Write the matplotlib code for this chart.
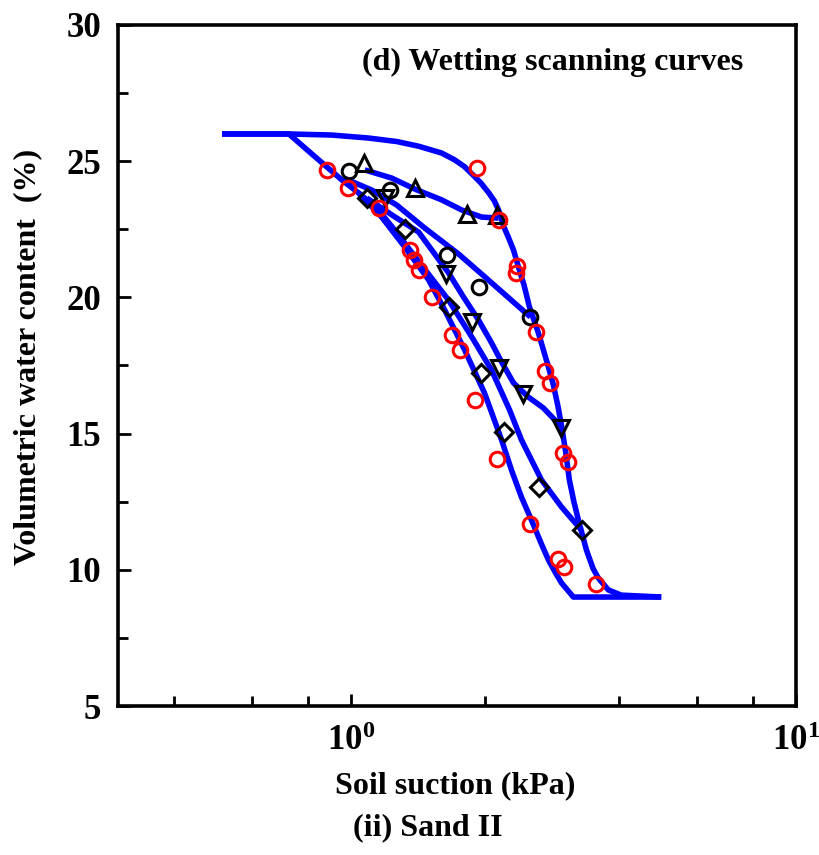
import numpy as np
import matplotlib
matplotlib.use("Agg")
import matplotlib.pyplot as plt
from matplotlib.ticker import FixedLocator, NullFormatter, FixedFormatter

plt.rcParams['font.family'] = ['Liberation Serif', 'DejaVu Serif']
plt.rcParams['font.weight'] = 'bold'
plt.rcParams['mathtext.fontset'] = 'custom'
plt.rcParams['mathtext.rm'] = 'Liberation Serif:bold'
plt.rcParams['mathtext.bf'] = 'Liberation Serif:bold'

# main drying boundary (right curve)
dry_x = [0.514, 0.726, 0.906, 1.097, 1.270, 1.420, 1.600, 1.711, 1.800, 1.880, 1.960, 2.039,
         2.100, 2.147, 2.203, 2.260, 2.320, 2.380, 2.450, 2.519, 2.639, 2.780, 2.850, 2.920,
         2.980, 3.040, 3.097, 3.170, 3.245, 3.382, 3.500, 3.597, 3.789, 4.052, 4.981]
dry_y = [26.0, 26.0, 25.96, 25.85, 25.72, 25.55, 25.30, 25.05, 24.80, 24.50, 24.20, 23.85,
         23.55, 23.21, 22.62, 22.20, 21.74, 21.12, 20.45, 19.65, 18.69, 17.44, 16.80, 16.00,
         15.20, 14.30, 13.30, 12.50, 11.83, 10.73, 10.05, 9.70, 9.26, 9.07, 9.0]

# main wetting boundary (left curve)
wet_x = [0.514, 0.726, 0.848, 0.955, 1.042, 1.173, 1.322, 1.496, 1.625, 1.802, 1.997, 2.181,
         2.296, 2.417, 2.545, 2.680, 2.780, 2.880, 2.973, 3.162, 4.981]
wet_y = [26.0, 26.0, 25.04, 24.31, 23.83, 22.95, 21.85, 20.64, 19.54, 18.07, 16.49, 14.77,
         13.66, 12.67, 11.83, 10.95, 10.36, 9.90, 9.52, 9.0, 9.0]

# scanning curves
scan_tri_up_x = [1.075, 1.236, 1.391, 1.600, 1.774, 1.966, 2.147]
scan_tri_up_y = [24.68, 24.38, 23.98, 23.58, 23.21, 22.95, 22.91]

scan_circ_x = [0.964, 1.115, 1.268, 1.465, 1.747, 1.966, 2.214, 2.532]
scan_circ_y = [24.38, 23.94, 23.39, 22.55, 21.59, 20.86, 20.12, 19.28]

scan_tri_dn_x = [1.086, 1.236, 1.420, 1.658, 1.792, 1.936, 2.071, 2.181, 2.320, 2.506, 2.708, 2.988]
scan_tri_dn_y = [23.65, 23.03, 22.40, 20.90, 20.01, 19.17, 18.33, 17.63, 16.86, 16.34, 15.94, 15.21]

scan_dia_x = [1.042, 1.144, 1.255, 1.413, 1.658, 1.887, 2.071, 2.273, 2.417, 2.681, 2.973, 3.296]
scan_dia_y = [23.83, 23.28, 22.47, 21.37, 19.90, 18.44, 17.33, 15.87, 14.77, 13.30, 12.31, 11.46]

# measured points
circ_x = [0.990, 1.223, 1.641, 1.936, 2.532]
circ_y = [24.64, 23.94, 21.56, 20.38, 19.28]
tri_up_x = [1.069, 1.391, 1.820, 2.130]
tri_up_y = [24.93, 24.02, 23.06, 23.03]
tri_dn_x = [1.192, 1.633, 1.867, 2.147, 2.442, 2.973]
tri_dn_y = [23.65, 20.86, 19.10, 17.41, 16.45, 15.21]
dia_x = [1.086, 1.322, 1.658, 1.966, 2.203, 2.653, 3.313]
dia_y = [23.65, 22.51, 19.65, 17.22, 15.06, 13.04, 11.46]

red_dry_x = [1.916, 2.147, 2.368, 2.356, 2.612, 2.736, 2.809, 3.004, 3.081, 3.561]
red_dry_y = [24.75, 22.84, 21.15, 20.90, 18.73, 17.30, 16.86, 14.29, 13.96, 9.48]
red_wet_x = [0.884, 0.985, 1.155, 1.356, 1.384, 1.420, 1.519, 1.684, 1.756, 1.897, 2.125,
             2.532, 2.927, 3.019]
red_wet_y = [24.68, 24.02, 23.28, 21.74, 21.37, 21.01, 20.01, 18.62, 18.07, 16.23, 14.07,
             11.68, 10.40, 10.10]

fig = plt.figure(figsize=(8.19, 8.55), dpi=100)
ax = fig.add_axes([118 / 819, 1 - 706 / 855, 678 / 819, 681 / 855])

blue = '#0000ff'
lw = 4.0
for xs, ys in [(dry_x, dry_y), (wet_x, wet_y), (scan_tri_up_x, scan_tri_up_y),
               (scan_circ_x, scan_circ_y), (scan_tri_dn_x, scan_tri_dn_y),
               (scan_dia_x, scan_dia_y)]:
    ax.plot(xs, ys, color=blue, lw=lw, solid_capstyle='butt', solid_joinstyle='round', zorder=2)

mk = dict(linestyle='none', mfc='none', mew=2.2, zorder=3)
ax.plot(circ_x, circ_y, marker='o', mec='black', ms=10.5, **mk)
ax.plot(tri_up_x, tri_up_y, marker='^', mec='black', ms=11, **mk)
ax.plot(tri_dn_x, tri_dn_y, marker='v', mec='black', ms=11, **mk)
ax.plot(dia_x, dia_y, marker='D', mec='black', ms=9.5, **mk)
ax.plot(red_dry_x, red_dry_y, marker='o', mec='red', ms=10.5, **mk)
ax.plot(red_wet_x, red_wet_y, marker='o', mec='red', ms=10.5, **mk)

ax.set_xscale('log')
ax.set_xlim(0.3, 10)
ax.set_ylim(5, 30)

ax.xaxis.set_major_locator(FixedLocator([1, 10]))
ax.xaxis.set_major_formatter(FixedFormatter([r'$\mathbf{10^0}$', r'$\mathbf{10^1}$']))
ax.xaxis.set_minor_locator(FixedLocator([0.4, 0.6, 0.8, 2, 4, 6, 8]))
ax.xaxis.set_minor_formatter(NullFormatter())
ax.yaxis.set_major_locator(FixedLocator([5, 10, 15, 20, 25, 30]))
ax.yaxis.set_minor_locator(FixedLocator([7.5, 12.5, 17.5, 22.5, 27.5]))

ax.tick_params(which='both', direction='in', width=2, labelsize=25,
               top=False, right=False)
ax.tick_params(which='major', length=9)
ax.tick_params(which='minor', length=7)
ax.tick_params(axis='y', pad=12)
ax.tick_params(axis='x', pad=14)
for lab in ax.get_yticklabels():
    lab.set_fontweight('bold')

for sp in ax.spines.values():
    sp.set_linewidth(2.6)

fig.text(553 / 819, 1 - 62 / 855, '(d) Wetting scanning curves', ha='center', va='center',
         fontsize=23, fontweight='bold')
fig.text(455 / 819, 1 - 786 / 855, 'Soil suction (kPa)', ha='center', va='center',
         fontsize=23, fontweight='bold')
fig.text(428 / 819, 1 - 828 / 855, '(ii) Sand II', ha='center', va='center',
         fontsize=23, fontweight='bold')
fig.text(28 / 819, 1 - 357 / 855, 'Volumetric water content  (%)', ha='center', va='center',
         rotation=90, fontsize=23, fontweight='bold')

fig.savefig('out.png', dpi=100)
